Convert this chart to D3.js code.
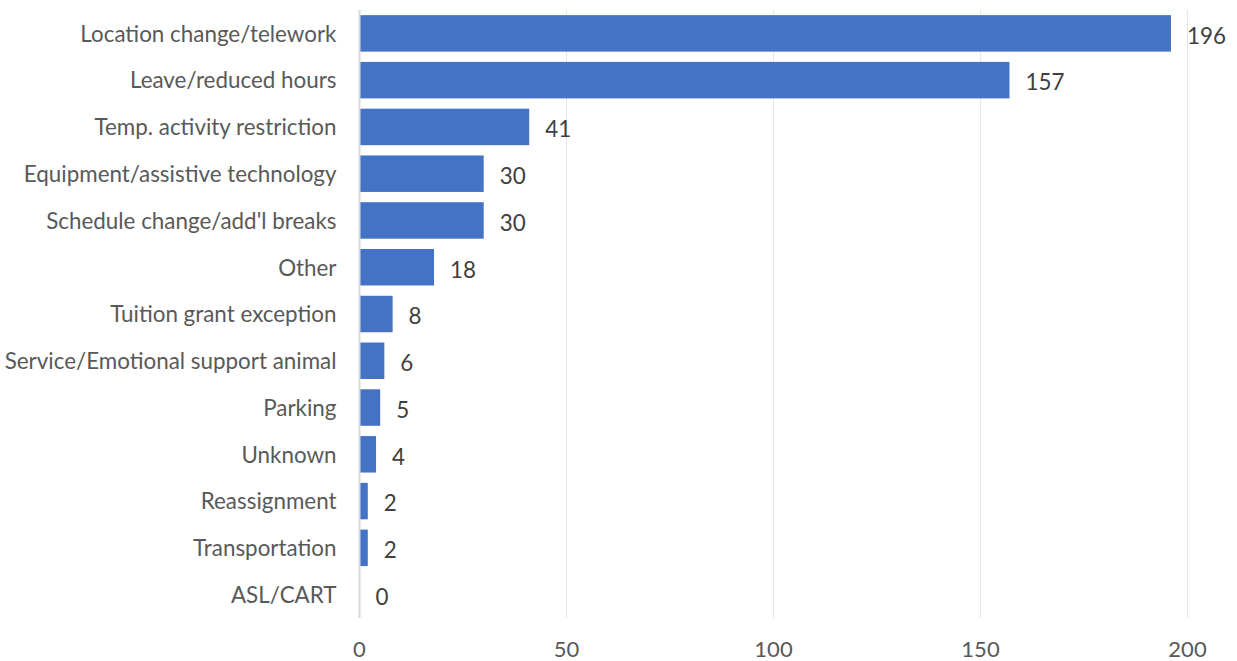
<!DOCTYPE html>
<html>
<head>
<meta charset="utf-8">
<script src="https://cdn.jsdelivr.net/npm/d3@7"></script>
<style>
  html, body { margin: 0; padding: 0; background: #ffffff; }
  svg { display: block; }
  text { font-family: Lato, "Open Sans", sans-serif; }
</style>
</head>
<body>
<svg id="chart" width="1237" height="661"></svg>
<script>
// Accommodation types and request counts
const categories = [
  "Location change/telework",
  "Leave/reduced hours",
  "Temp. activity restriction",
  "Equipment/assistive technology",
  "Schedule change/add'l breaks",
  "Other",
  "Tuition grant exception",
  "Service/Emotional support animal",
  "Parking",
  "Unknown",
  "Reassignment",
  "Transportation",
  "ASL/CART"
];
const counts = [196, 157, 41, 30, 30, 18, 8, 6, 5, 4, 2, 2, 0];
const xTicks = [0, 50, 100, 150, 200];

const svg = d3.select("#chart");
const margin = { left: 359.5, right: 49.5, top: 10, bottom: 43 };
const W = 1237, H = 661;

const x = d3.scaleLinear()
  .domain([0, 200])
  .range([margin.left, W - margin.right]);

const y = d3.scaleBand()
  .domain(categories)
  .range([margin.top, H - margin.bottom])
  .paddingInner(0.22)
  .paddingOuter(0.11);

// vertical gridlines
svg.append("g")
  .selectAll("line")
  .data(xTicks.slice(1))
  .join("line")
  .attr("x1", d => x(d)).attr("x2", d => x(d))
  .attr("y1", margin.top).attr("y2", H - margin.bottom)
  .attr("stroke", "#e6e6e6")
  .attr("stroke-width", 1);

// bars
svg.append("g")
  .selectAll("rect")
  .data(categories)
  .join("rect")
  .attr("x", x(0))
  .attr("y", d => y(d))
  .attr("width", (d, i) => x(counts[i]) - x(0))
  .attr("height", y.bandwidth())
  .attr("fill", "#4472c4");

// category axis line
svg.append("line")
  .attr("x1", x(0)).attr("x2", x(0))
  .attr("y1", margin.top).attr("y2", H - margin.bottom)
  .attr("stroke", "#d9d9d9")
  .attr("stroke-width", 2);

// category labels
svg.append("g")
  .selectAll("text")
  .data(categories)
  .join("text")
  .attr("x", x(0) - 23)
  .attr("y", d => y(d) + y.bandwidth() / 2 + 0.5)
  .attr("dy", "0.35em")
  .attr("text-anchor", "end")
  .attr("font-size", 22.4)
  .attr("fill", "#595959")
  .text(d => d);

// value labels
svg.append("g")
  .selectAll("text")
  .data(categories)
  .join("text")
  .attr("x", (d, i) => x(counts[i]) + 16)
  .attr("y", d => y(d) + y.bandwidth() / 2 + 2.5)
  .attr("dy", "0.35em")
  .attr("font-size", 22.4)
  .attr("fill", "#404040")
  .text((d, i) => counts[i]);

// value axis tick labels
svg.append("g")
  .selectAll("text")
  .data(xTicks)
  .join("text")
  .attr("x", d => x(d))
  .attr("y", 649)
  .attr("dy", "0.35em")
  .attr("text-anchor", "middle")
  .attr("font-size", 22)
  .attr("fill", "#595959")
  .text(d => d);
</script>
</body>
</html>
